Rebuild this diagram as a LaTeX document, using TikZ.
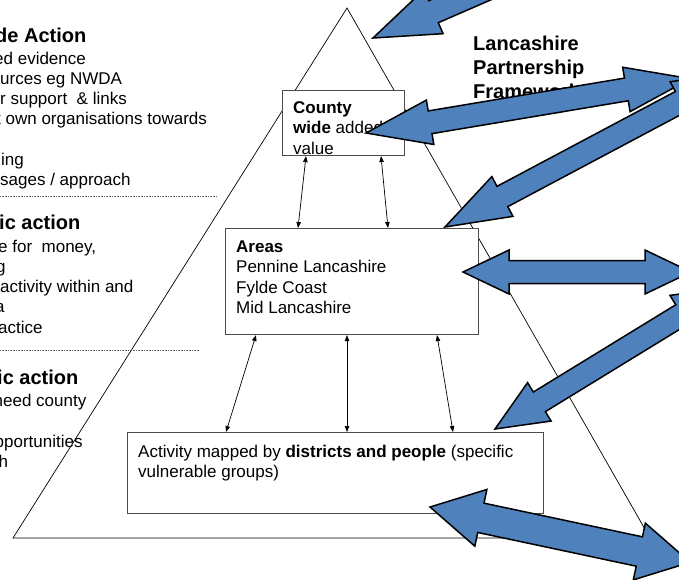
\documentclass[tikz,border=0pt]{standalone}
\usepackage{fontspec}
\setmainfont{Liberation Sans}
\usetikzlibrary{arrows.meta,calc}
\definecolor{arrowblue}{HTML}{4F81BD}
\tikzset{
  box/.style={draw=black!70, line width=1.1pt, fill=white, inner sep=0pt, anchor=north west},
  txt/.style={anchor=base west, inner sep=0pt, font=\fontsize{17}{20.5}\selectfont},
  hdr/.style={anchor=base west, inner sep=0pt, font=\fontsize{20}{24}\selectfont\bfseries},
  tri/.style={draw=black, line width=0.7pt},
  link/.style={draw=black, line width=0.7pt, {Triangle[length=6pt,width=4.5pt]}-{Triangle[length=6pt,width=4.5pt]}},
  sep/.style={draw=black!60, line width=0.6pt, dash pattern=on 0.8pt off 0.8pt},
  blockarrow/.style={draw=black, line width=1.5pt, fill=arrowblue, line join=miter}
}
% x y angle length shaft-halfwidth head-halfwidth head-length
\newcommand\blockarrow[7]{%
  \begin{scope}[shift={(#1,#2)},rotate=#3]
    \draw[blockarrow] (0,0) -- (#7,-#6) -- (#7,-#5) -- ({#4-#7},-#5) -- ({#4-#7},-#6) -- (#4,0)
      -- ({#4-#7},#6) -- ({#4-#7},#5) -- (#7,#5) -- (#7,#6) -- cycle;
  \end{scope}}
\begin{document}
\begin{tikzpicture}[x=1pt,y=-1pt]
\useasboundingbox (0,0) rectangle (679,579);
\clip (0,0) rectangle (679,579);
\fill[white] (0,0) rectangle (679,579);

% triangle
\draw[tri] (347,8) -- (650,538) -- (13,538) -- cycle;

% left text
\node[hdr] (h1) at (-5,42) {de Action};
\node[txt] (l1) at (-6,64) {ed evidence};
\node[txt] (l2) at (0,84) {urces eg NWDA};
\node[txt] (l3) at (0,104) {r support~ \& links};
\node[txt] (l4) at (-4,124) {t own organisations towards};
\node[txt] (l5) at (1,165) {ing};
\node[txt] (l6) at (0,185) {sages / approach};
\draw[sep] (0,196) -- (217,196);

\node[hdr] (h2) at (-1,229) {ic action};
\node[txt] (m1) at (-2,252) {e for~ money,};
\node[txt] (m2) at (-4,272) {g};
\node[txt] (m3) at (0,292) {activity within and};
\node[txt] (m4) at (-5,312) {a};
\node[txt] (m5) at (-2,333) {actice};
\draw[sep] (0,350) -- (200,350);

\node[hdr] (h3) at (-3,384) {ic action};
\node[txt] (n1) at (-6.5,406) {need county};
\node[txt] (n2) at (-15,447) {opportunities};
\node[txt] (n3) at (-1.5,467) {h};

% right title
\node[hdr] (t1) at (473,50) {Lancashire};
\node[hdr] (t2) at (473,74) {Partnership};
\node[hdr] (t3) at (473,98) {Framework};

% boxes
\node[box, minimum width=122pt, minimum height=65pt] (county) at (282,90) {};
\node[box, minimum width=253pt, minimum height=106pt] (areas) at (225,228) {};
\node[box, minimum width=416pt, minimum height=81pt] (activity) at (127,432) {};

% box texts
\node[txt] (c1) at (293,113) {\textbf{County}};
\node[txt] (c2) at (293,133.5) {\textbf{wide} added};
\node[txt] (c3) at (293,154) {value};

\node[txt] (a1) at (236,252) {\textbf{Areas}};
\node[txt] (a2) at (236,272.5) {Pennine Lancashire};
\node[txt] (a3) at (236,293) {Fylde Coast};
\node[txt] (a4) at (236,313.5) {Mid Lancashire};

\node[txt] (d1) at (138,457) {Activity mapped by \textbf{districts and people} (specific};
\node[txt] (d2) at (138,477) {vulnerable groups)};

% thin connectors
\draw[link] ($(county.south west)+(24,0)$) -- ($(areas.north west)+(73,0)$);
\draw[link] ($(county.south west)+(99,0)$) -- ($(areas.north west)+(163,0)$);
\draw[link] ($(areas.south west)+(31,0)$) -- ($(activity.north west)+(99,0)$);
\draw[link] ($(areas.south west)+(122,0)$) -- ($(activity.north west)+(220,0)$);
\draw[link] ($(areas.south west)+(212,0)$) -- ($(activity.north west)+(326,0)$);

% block arrows
\blockarrow{373}{38}{23.5}{400}{12}{24}{66}
\blockarrow{366}{133}{9.5}{329}{11.5}{22.5}{65}
\blockarrow{445}{227}{28}{332}{11.5}{22.5}{65}
\blockarrow{463}{272}{0}{228}{11.5}{22}{46}
\blockarrow{495}{429}{31.5}{271}{11.5}{22.5}{52}
\blockarrow{430}{507}{-12}{266}{15}{29}{52}
\end{tikzpicture}
\end{document}
